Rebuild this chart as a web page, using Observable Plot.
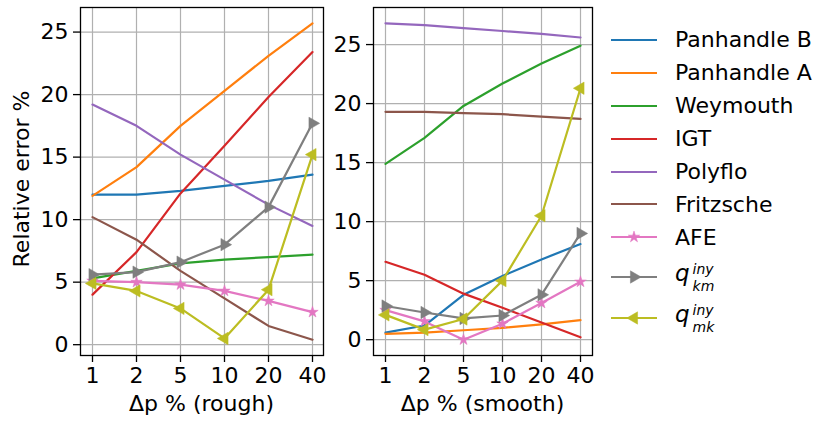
<!DOCTYPE html>
<html>
<head>
<meta charset="utf-8">
<script src="https://cdn.jsdelivr.net/npm/d3@7"></script>
<script src="https://cdn.jsdelivr.net/npm/@observablehq/plot@0.6"></script>
<style>
  body { margin: 0; background: white; }
  #wrap { position: relative; width: 817px; height: 421px; font-family: "DejaVu Sans", sans-serif; color: black; }
  #wrap svg.plot, #wrap > svg { position: absolute; left: 0; top: 0; }
  .lbl { position: absolute; font-size: 22px; white-space: nowrap; line-height: 1; }
  .leg { position: absolute; left: 605px; font-size: 22px; }
  .row { position: absolute; left: 0; height: 24px; display: flex; align-items: center; white-space: nowrap; }
  .row svg { position: static !important; width: 58px; height: 24px; margin-right: 12px; }
  .ss { display: inline-flex; flex-direction: column; font-size: 14px; line-height: 1.17; vertical-align: 7px; margin-left: 3px; }
  .ss i { display: block; }
  .mq { font-style: italic; font-size: 23px; }
</style>
</head>
<body>
<div id="wrap"></div>
<script>
const xCats = ["1", "2", "5", "10", "20", "40"];
const yTicks = [0, 5, 10, 15, 20, 25];
const seriesNames = ["Panhandle B", "Panhandle A", "Weymouth", "IGT", "Polyflo", "Fritzsche", "AFE", "q_km", "q_mk"];
const seriesColors = ["#1f77b4", "#ff7f0e", "#2ca02c", "#d62728", "#9467bd", "#8c564b", "#e377c2", "#7f7f7f", "#bcbd22"];
const seriesMarkers = [null, null, null, null, null, null, "star", "right", "left"];

// rough
const roughPanhandleB = [12.0, 12.0, 12.3, 12.7, 13.1, 13.6];
const roughPanhandleA = [11.9, 14.2, 17.5, 20.3, 23.1, 25.7];
const roughWeymouth   = [5.3, 5.9, 6.5, 6.8, 7.0, 7.2];
const roughIGT        = [4.0, 7.4, 12.1, 15.9, 19.8, 23.4];
const roughPolyflo    = [19.2, 17.5, 15.2, 13.2, 11.2, 9.5];
const roughFritzsche  = [10.2, 8.4, 5.9, 3.7, 1.5, 0.4];
const roughAFE        = [5.1, 5.0, 4.8, 4.3, 3.5, 2.6];
const roughQkm        = [5.6, 5.8, 6.6, 8.0, 11.0, 17.7];
const roughQmk        = [4.9, 4.3, 2.9, 0.5, 4.4, 15.2];

// smooth
const smoothPanhandleB = [0.6, 1.2, 3.8, 5.4, 6.8, 8.1];
const smoothPanhandleA = [0.5, 0.6, 0.8, 1.0, 1.3, 1.65];
const smoothWeymouth   = [14.9, 17.1, 19.8, 21.7, 23.4, 24.9];
const smoothIGT        = [6.6, 5.5, 3.9, 2.7, 1.45, 0.2];
const smoothPolyflo    = [26.8, 26.65, 26.4, 26.15, 25.9, 25.6];
const smoothFritzsche  = [19.3, 19.3, 19.2, 19.1, 18.9, 18.7];
const smoothAFE        = [2.5, 1.55, 0.0, 1.35, 3.1, 4.9];
const smoothQkm        = [2.85, 2.3, 1.8, 2.05, 3.8, 9.0];
const smoothQmk        = [2.1, 0.85, 1.75, 5.0, 10.5, 21.3];

const roughSets = [roughPanhandleB, roughPanhandleA, roughWeymouth, roughIGT, roughPolyflo, roughFritzsche, roughAFE, roughQkm, roughQmk];
const smoothSets = [smoothPanhandleB, smoothPanhandleA, smoothWeymouth, smoothIGT, smoothPolyflo, smoothFritzsche, smoothAFE, smoothQkm, smoothQmk];

function toRows(sets) {
  return sets.map((vals, i) => vals.map((v, j) => ({series: seriesNames[i], x: xCats[j], y: v})));
}

function seriesMarks(rowsBySeries) {
  const marks = [];
  rowsBySeries.forEach((rows, i) => {
    const c = seriesColors[i];
    marks.push(Plot.line(rows, {x: "x", y: "y", stroke: c, strokeWidth: 2.2}));
    const m = seriesMarkers[i];
    if (m === "star") marks.push(Plot.dot(rows, {x: "x", y: "y", symbol: "star", fill: c, stroke: c, strokeWidth: 0.5, r: 3.6}));
    if (m === "right") marks.push(Plot.dot(rows, {x: "x", y: "y", symbol: "triangle", rotate: 90, fill: c, stroke: c, strokeWidth: 0.5, r: 4.6}));
    if (m === "left") marks.push(Plot.dot(rows, {x: "x", y: "y", symbol: "triangle", rotate: -90, fill: c, stroke: c, strokeWidth: 0.5, r: 4.6}));
  });
  return marks;
}

function panel(sets, yDomain, ml, mr) {
  return Plot.plot({
    width: 817, height: 421,
    marginLeft: ml, marginRight: mr, marginTop: 7, marginBottom: 66,
    style: {background: "transparent", fontFamily: "DejaVu Sans, sans-serif", fontSize: "22px", color: "black", overflow: "visible"},
    x: {type: "point", domain: xCats, padding: 0.25, label: null},
    y: {domain: yDomain, label: null},
    marks: [
      Plot.gridX({stroke: "#b0b0b0", strokeOpacity: 1, strokeWidth: 1.2}),
      Plot.gridY(yTicks, {stroke: "#b0b0b0", strokeOpacity: 1, strokeWidth: 1.2}),
      ...seriesMarks(toRows(sets)),
      Plot.frame({stroke: "black", strokeWidth: 1.3}),
      Plot.axisX({tickSize: 7, tickPadding: 5, label: null, stroke: "black", strokeWidth: 1.3}),
      Plot.axisY(yTicks, {tickSize: 7, tickPadding: 5, label: null, stroke: "black", strokeWidth: 1.3})
    ]
  });
}

const wrap = document.getElementById("wrap");
wrap.appendChild(panel(roughSets, [-0.865, 26.965], 80, 817 - 323));
wrap.appendChild(panel(smoothSets, [-1.34, 28.14], 373, 817 - 592));

function addLabel(text, x, y, rotate) {
  const d = document.createElement("div");
  d.className = "lbl";
  d.textContent = text;
  d.style.left = x + "px";
  d.style.top = y + "px";
  d.style.transform = "translate(-50%,-50%)" + (rotate ? " rotate(-90deg)" : "");
  wrap.appendChild(d);
}
addLabel("Δp % (rough)", 201.5, 404, false);
addLabel("Δp % (smooth)", 482.5, 404, false);
addLabel("Relative error %", 22, 179, true);

// legend
const leg = document.createElement("div");
leg.className = "leg";
leg.style.top = "0px";
wrap.appendChild(leg);
const rowY = [39.5, 72.5, 105.5, 138.5, 171.5, 204, 237, 277, 318];
seriesNames.forEach((name, i) => {
  const row = document.createElement("div");
  row.className = "row";
  row.style.top = (rowY[i] - 12) + "px";
  const c = seriesColors[i];
  let marker = "";
  const m = seriesMarkers[i];
  if (m) {
    let sym = m === "star" ? d3.symbolStar : d3.symbolTriangle;
    const rr = m === "star" ? 3.6 : 4.6;
    const path = d3.symbol(sym, rr * rr * Math.PI)();
    const rot = m === "right" ? 90 : m === "left" ? -90 : 0;
    marker = `<path d="${path}" transform="translate(29,12) rotate(${rot})" fill="${c}" stroke="${c}" stroke-width="0.5"/>`;
  }
  row.innerHTML = `<svg width="58" height="24"><line x1="6" x2="52" y1="12" y2="12" stroke="${c}" stroke-width="2.2"/>${marker}</svg>`;
  const t = document.createElement("span");
  if (name === "q_km" || name === "q_mk") {
    const sub = name === "q_km" ? "km" : "mk";
    t.innerHTML = `<span class="mq">q</span><span class="ss"><i>iny</i><i>${sub}</i></span>`;
  } else {
    t.textContent = name;
  }
  row.appendChild(t);
  leg.appendChild(row);
});
</script>
</body>
</html>
